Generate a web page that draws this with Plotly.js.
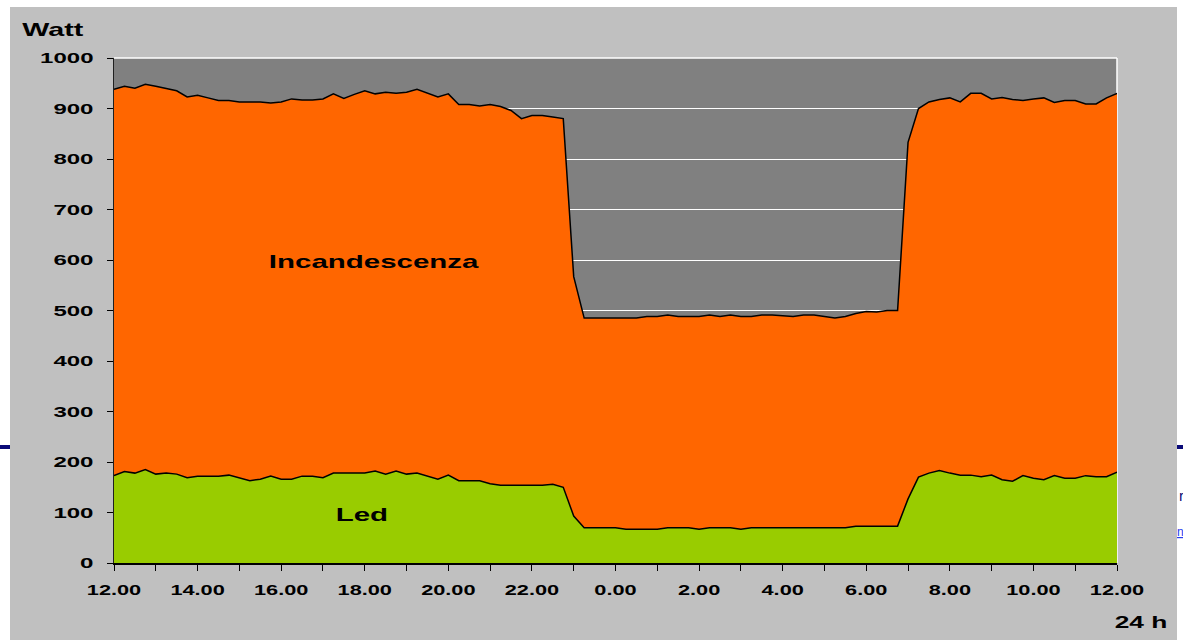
<!DOCTYPE html>
<html>
<head>
<meta charset="utf-8">
<script src="https://cdn.plot.ly/plotly-3.0.1.min.js"></script>
<style>
  html, body { margin: 0; padding: 0; background: #ffffff; overflow: hidden; }
  #chart { width: 1183px; height: 640px; }
</style>
</head>
<body>
<div id="chart"></div>
<script>
// Hour labels shown every two hours along the 24 h axis (starting at noon)
const hourLabels = ["12.00", "14.00", "16.00", "18.00", "20.00", "22.00", "0.00",
                    "2.00", "4.00", "6.00", "8.00", "10.00", "12.00"];

// Power drawn (W), one reading every 15 minutes from 12.00 to 12.00 next day
const incandescenza = [
  938, 944, 940, 948, 944, 939, 935, 923, 926, 921, 916, 916, 913, 913, 913, 911,
  913, 919, 917, 917, 919, 929, 920, 928, 935, 929, 932, 930, 932, 938, 930, 923,
  929, 908, 908, 905, 908, 904, 896, 880, 886, 886, 883, 880, 567, 485, 485, 485,
  485, 485, 485, 488, 488, 491, 488, 488, 488, 491, 488, 491, 488, 488, 491, 491,
  490, 488, 491, 491, 488, 485, 488, 494, 498, 497, 500, 500, 833, 900, 913, 918,
  921, 913, 930, 930, 919, 922, 918, 916, 919, 921, 912, 916, 916, 909, 909, 921,
  930
];

const led = [
  173, 181, 178, 185, 176, 178, 176, 169, 172, 172, 172, 174, 169, 163, 166, 172,
  166, 166, 172, 172, 169, 178, 178, 178, 178, 182, 176, 182, 176, 178, 172, 166,
  174, 163, 163, 163, 157, 154, 154, 154, 154, 154, 156, 150, 93, 70, 70, 70,
  70, 67, 67, 67, 67, 70, 70, 70, 67, 70, 70, 70, 67, 70, 70, 70,
  70, 70, 70, 70, 70, 70, 70, 73, 73, 73, 73, 73, 127, 170, 178, 183,
  178, 174, 174, 171, 174, 165, 162, 173, 168, 165, 173, 168, 168, 173, 171, 171,
  180
];

const seriesNames = ["Incandescenza", "Led"];

// Sampling step in hours and the matching time positions
const stepHours = 0.25;
const hours = incandescenza.map((_, i) => i * stepHours);

// One tick per hour, labelled every second hour
const tickVals = [];
const tickText = [];
for (let h = 0; h <= 24; h++) {
  tickVals.push(h);
  tickText.push(h % 2 === 0 ? hourLabels[h / 2] : "");
}

const FONT = "Liberation Sans, Arial, sans-serif";

const data = [
  {
    x: hours, y: incandescenza, name: seriesNames[0],
    type: "scatter", mode: "lines", fill: "tozeroy",
    fillcolor: "#ff6600", line: { color: "#000000", width: 1.5 },
    hoverinfo: "skip"
  },
  {
    x: hours, y: led, name: seriesNames[1],
    type: "scatter", mode: "lines", fill: "tozeroy",
    fillcolor: "#99cc00", line: { color: "#000000", width: 1.5 },
    hoverinfo: "skip"
  }
];

// Plot area spans pixels 114..1117 horizontally, 58..563 vertically
const PL = 114, PR = 1117, PT = 58, PB = 563;
const px = v => (v - PL) / (PR - PL);
const py = v => (PB - v) / (PB - PT);

const layout = {
  width: 1183, height: 640,
  margin: { l: PL, r: 1183 - PR, t: PT, b: 640 - PB, pad: 0 },
  paper_bgcolor: "#ffffff",
  plot_bgcolor: "rgba(0,0,0,0)",
  showlegend: false,
  xaxis: {
    range: [0, 24], tickmode: "array", tickvals: tickVals, ticktext: tickText,
    ticks: "outside", ticklen: 6, tickwidth: 1, tickcolor: "#000000",
    showgrid: false, zeroline: false,
    showline: true, linecolor: "#000000", linewidth: 2,
    ticklabelstandoff: 6,
    tickfont: { family: FONT, size: 15, color: "#000000", weight: "bold" },
    fixedrange: true
  },
  yaxis: {
    range: [0, 1000], tick0: 0, dtick: 100,
    ticks: "outside", ticklen: 6, tickwidth: 1, tickcolor: "#000000",
    showgrid: true, gridcolor: "#ffffff", gridwidth: 1,
    zeroline: false,
    showline: true, linecolor: "#202020", linewidth: 1.5,
    ticklabelstandoff: 10,
    tickfont: { family: FONT, size: 15, color: "#000000", weight: "bold" },
    fixedrange: true
  },
  shapes: [
    // grey chart panel
    { type: "rect", xref: "paper", yref: "paper", layer: "below",
      x0: px(10), x1: px(1177), y0: py(640), y1: py(7),
      fillcolor: "#c0c0c0", line: { width: 0 } },
    // dark grey plot area
    { type: "rect", xref: "paper", yref: "paper", layer: "below",
      x0: 0, x1: 1, y0: 0, y1: 1,
      fillcolor: "#808080", line: { width: 0 } },
    // white border on top and right of plot area
    { type: "line", xref: "paper", yref: "paper", layer: "below",
      x0: 0, x1: 1, y0: 1, y1: 1, line: { color: "#ffffff", width: 1.5 } },
    { type: "line", xref: "paper", yref: "paper", layer: "below",
      x0: 1, x1: 1, y0: 0, y1: 1, line: { color: "#ffffff", width: 1.5 } },
    // navy rule of the surrounding page, visible at both edges
    { type: "line", xref: "paper", yref: "paper", layer: "above",
      x0: px(0), x1: px(10), y0: py(447), y1: py(447),
      line: { color: "#0a0a78", width: 4 } },
    { type: "line", xref: "paper", yref: "paper", layer: "above",
      x0: px(1177), x1: px(1183), y0: py(447), y1: py(447),
      line: { color: "#0a0a78", width: 4 } }
  ],
  annotations: [
    { text: "Watt", xref: "paper", yref: "paper", x: px(52), y: py(30),
      xanchor: "center", yanchor: "middle", showarrow: false,
      font: { family: FONT, size: 18.5, color: "#000000", weight: "bold" } },
    { text: "24 h", xref: "paper", yref: "paper", x: px(1141), y: py(622),
      xanchor: "center", yanchor: "middle", showarrow: false,
      font: { family: FONT, size: 17, color: "#000000", weight: "bold" } },
    { text: seriesNames[0], xref: "x", yref: "y",
      x: (374 - PL) / (PR - PL) * 24, y: (PB - 261) / (PB - PT) * 1000,
      xanchor: "center", yanchor: "middle", showarrow: false,
      font: { family: FONT, size: 19, color: "#000000", weight: "bold" } },
    { text: seriesNames[1], xref: "x", yref: "y",
      x: (362 - PL) / (PR - PL) * 24, y: (PB - 514) / (PB - PT) * 1000,
      xanchor: "center", yanchor: "middle", showarrow: false,
      font: { family: FONT, size: 19, color: "#000000", weight: "bold" } },
    // fragments of the surrounding page text at the right edge
    { text: "r", xref: "paper", yref: "paper", x: px(1177), y: py(495),
      xanchor: "left", yanchor: "middle", showarrow: false,
      font: { family: FONT, size: 15, color: "#0a0a78" } },
    { text: "<u>n</u>", xref: "paper", yref: "paper", x: px(1175), y: py(532),
      xanchor: "left", yanchor: "middle", showarrow: false,
      font: { family: FONT, size: 12, color: "#2a3cf0" } }
  ]
};

// Horizontal stretch applied to the chart lettering (wide bold face)
const STRETCH_Y = 1.6, STRETCH_X = 1.45, STRETCH_NOTE = 1.55;

Plotly.newPlot("chart", data, layout, { staticPlot: true, displayModeBar: false })
  .then(gd => {
    const widen = (el, k) => {
      const w = el.getComputedTextLength();
      if (w > 0) {
        el.setAttribute("textLength", (w * k).toFixed(1));
        el.setAttribute("lengthAdjust", "spacingAndGlyphs");
      }
    };
    gd.querySelectorAll(".ytick text").forEach(t => widen(t, STRETCH_Y));
    gd.querySelectorAll(".xtick text").forEach(t => widen(t, STRETCH_X));
    gd.querySelectorAll(".annotation").forEach(g => {
      const idx = +g.getAttribute("data-index");
      if (idx <= 3) g.querySelectorAll("text").forEach(t => widen(t, STRETCH_NOTE));
    });
  });
</script>
</body>
</html>
